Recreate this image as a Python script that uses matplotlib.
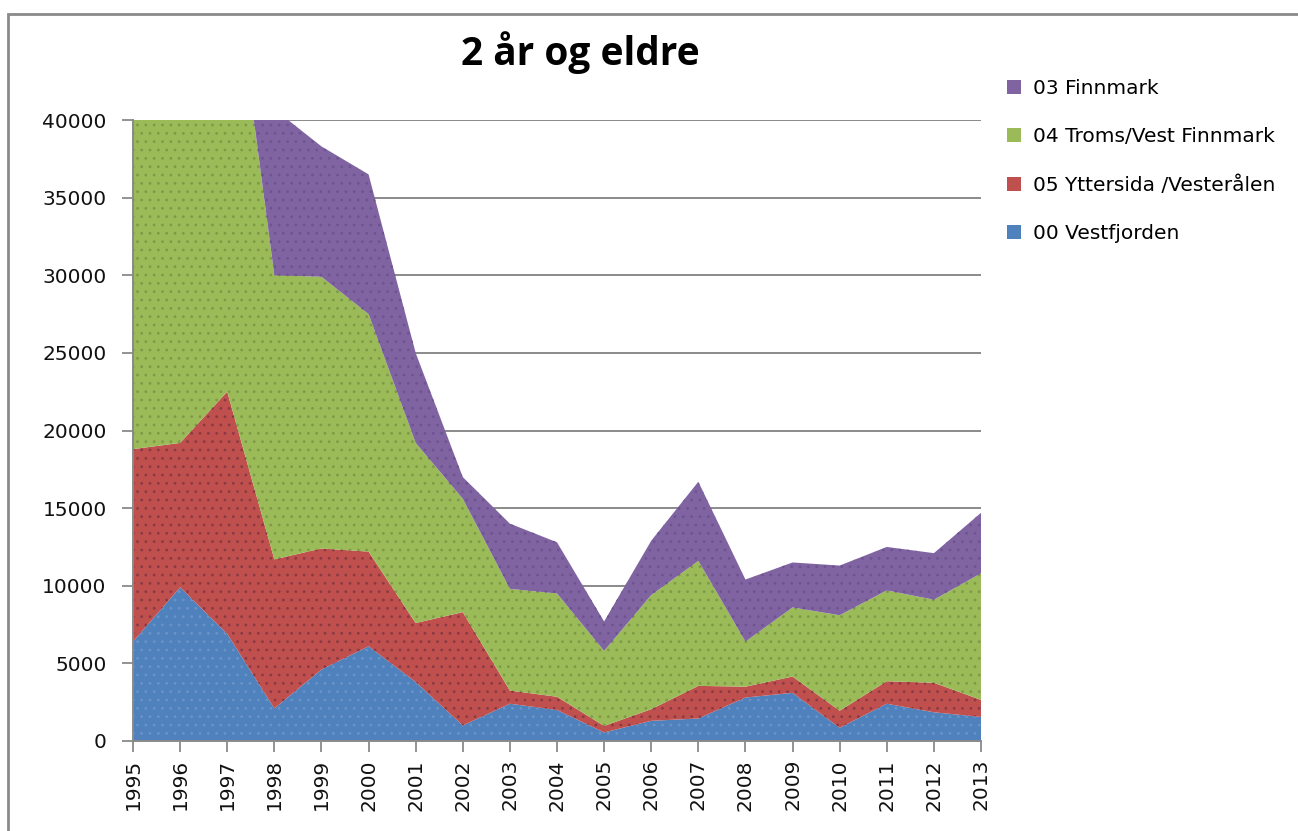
import numpy as np
import matplotlib.pyplot as plt
from matplotlib.patches import Patch, Rectangle

# ---------------------------------------------------------------------------
# Data (values above 40000 are clipped there)
# ---------------------------------------------------------------------------
years = list(range(1995, 2014))

vestfjorden = [6400, 9900, 6900, 2100, 4600, 6100, 3800, 1000, 2400, 2000,
               550, 1300, 1450, 2800, 3100, 850, 2400, 1850, 1550]
yttersida = [12400, 9300, 15600, 9600, 7800, 6100, 3800, 7300, 850, 850,
             420, 750, 2100, 700, 1050, 1100, 1450, 1900, 1100]
troms = [29200, 30800, 30500, 18300, 17500, 15300, 11600, 7300, 6550, 6650,
         4830, 7350, 8050, 2900, 4450, 6150, 5850, 5350, 8150]
finnmark = [5000, 5000, 6000, 10700, 8400, 9000, 5800, 1400, 4200, 3300,
            1900, 3500, 5100, 4000, 2900, 3200, 2800, 3000, 3900]

labels = ['00 Vestfjorden', '05 Yttersida /Vesterålen',
          '04 Troms/Vest Finnmark', '03 Finnmark']
colours = ['#4F81BD', '#C0504D', '#9BBB59', '#8064A2']
dots = ['#6a93c8', '#8a3a44', '#7e9a48', '#6d5490']

# ---------------------------------------------------------------------------
plt.rcParams.update({
    'font.family': 'DejaVu Sans',
    'hatch.linewidth': 0.8,
})

fig = plt.figure(figsize=(12.98, 8.31), dpi=100)
ax = fig.add_axes([133 / 1298, 1 - 741 / 831, (981 - 133) / 1298, (741 - 120) / 831])

# outer chart border
fig.patches.append(Rectangle((8 / 1298, -0.1), 1.2, 1 - 14 / 831 + 0.1,
                             transform=fig.transFigure, fill=False,
                             edgecolor='#8a8a8a', linewidth=2))

polys = ax.stackplot(years, vestfjorden, yttersida, troms, finnmark,
                     colors=colours, linewidth=0, zorder=2)
# faint dotted texture like the original pattern fill
for p, d in zip(polys, dots):
    p.set_hatch('..')
    p.set_edgecolor(d)
    p.set_linewidth(0)

ax.set_xlim(1995, 2013)
ax.set_ylim(0, 40000)
ax.set_yticks(np.arange(0, 40001, 5000))
ax.set_xticks(years)
ax.set_xticklabels([str(y) for y in years], rotation=90)
ax.tick_params(axis='both', labelsize=14.5, colors='#8a8a8a', labelcolor='#111111',
               length=8, width=1.3, direction='out')
ax.tick_params(axis='y', pad=11)
ax.tick_params(axis='x', pad=5)

ax.grid(axis='y', color='#8a8a8a', linewidth=1.4, zorder=0)
ax.set_axisbelow(True)
for side in ('top', 'right'):
    ax.spines[side].set_visible(False)
for side in ('left', 'bottom'):
    ax.spines[side].set_color('#8a8a8a')
    ax.spines[side].set_linewidth(1.4)

fig.text(580 / 1298, 1 - 53 / 831, '2 år og eldre', ha='center', va='center',
         fontsize=28, fontweight='bold', family='Open Sans')

handles = [Patch(facecolor=c, edgecolor='none') for c in colours[::-1]]
fig.legend(handles, labels[::-1], loc='upper left',
           bbox_to_anchor=(999 / 1298, 1 - 71 / 831), frameon=False,
           fontsize=14.5, handlelength=0.7, handleheight=0.7,
           handletextpad=0.6, labelspacing=1.45, borderaxespad=0)

fig.savefig('out.png', dpi=100)
